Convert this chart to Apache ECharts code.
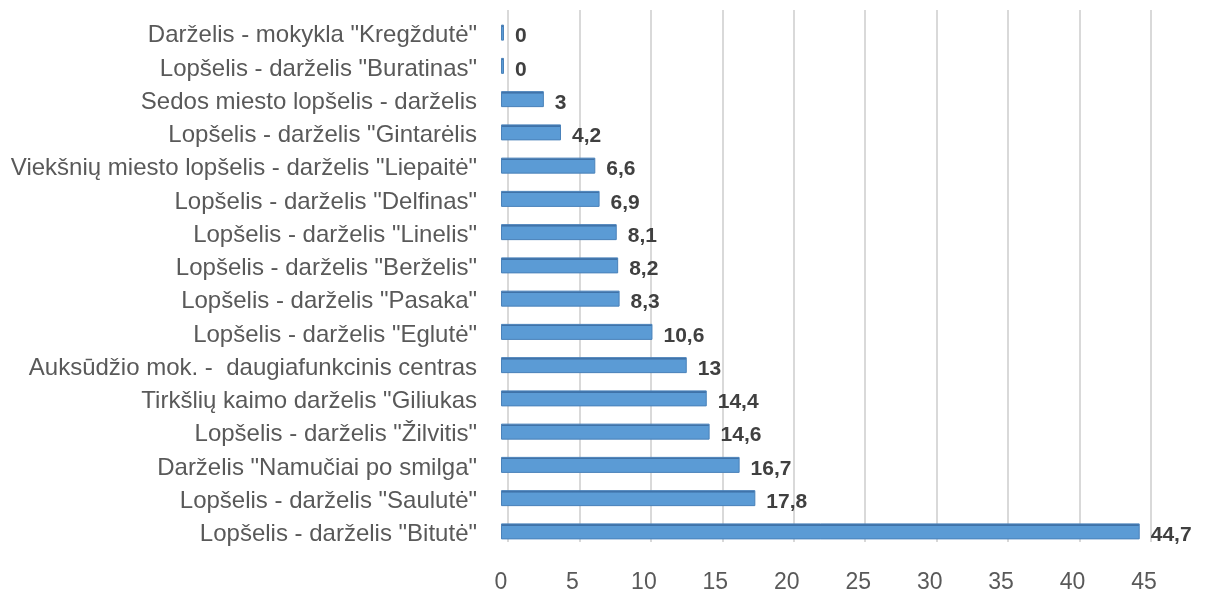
<!DOCTYPE html>
<html>
<head>
<meta charset="utf-8">
<script src="https://cdn.jsdelivr.net/npm/echarts@6/dist/echarts.min.js"></script>
<style>
  html, body { margin: 0; padding: 0; background: #fff; }
  #chart { width: 1207px; height: 590px; }
</style>
</head>
<body>
<div id="chart"></div>
<script>
// duomenys, iš viršaus į apačią
const categories = [
	'Darželis - mokykla "Kregždutė"',
	'Lopšelis - darželis "Buratinas"',
	"Sedos miesto lopšelis - darželis",
	'Lopšelis - darželis "Gintarėlis',
	'Viekšnių miesto lopšelis - darželis "Liepaitė"',
	'Lopšelis - darželis "Delfinas"',
	'Lopšelis - darželis "Linelis"',
	'Lopšelis - darželis "Berželis"',
	'Lopšelis - darželis "Pasaka"',
	'Lopšelis - darželis "Eglutė"',
	"Auksūdžio mok. -  daugiafunkcinis centras",
	'Tirkšlių kaimo darželis "Giliukas',
	'Lopšelis - darželis "Žilvitis"',
	'Darželis "Namučiai po smilga"',
	'Lopšelis - darželis "Saulutė"',
	'Lopšelis - darželis "Bitutė"',
];
const values = [0, 0, 3, 4.2, 6.6, 6.9, 8.1, 8.2, 8.3, 10.6, 13, 14.4, 14.6, 16.7, 17.8, 44.7];
const xTicks = [0, 5, 10, 15, 20, 25, 30, 35, 40, 45];

const chart = echarts.init(document.getElementById("chart"));

chart.setOption({
	animation: false,
	textStyle: { fontFamily: "Liberation Sans, Arial, sans-serif" },
	grid: [
		{ left: 501, width: 643, top: 16, height: 532, outerBoundsMode: "none" }, // stulpeliai
		{ left: 508, width: 643, top: 10, height: 532, outerBoundsMode: "none" }, // galinė sienelė (tinklelis)
	],
	xAxis: [
		{
			gridIndex: 0,
			type: "value",
			min: xTicks[0],
			max: xTicks[xTicks.length - 1],
			interval: 5,
			axisLine: { show: false },
			axisTick: { show: false },
			splitLine: { show: false },
			axisLabel: { color: "#595959", fontSize: 23, margin: 23 },
		},
		{
			gridIndex: 1,
			type: "value",
			min: 0,
			max: 45,
			interval: 5,
			axisLine: { show: false },
			axisTick: { show: false },
			axisLabel: { show: false },
			splitLine: { show: true, lineStyle: { color: "#D9D9D9", width: 2 } },
		},
	],
	yAxis: [
		{
			gridIndex: 0,
			type: "category",
			data: categories,
			inverse: true,
			axisLine: { show: false },
			axisTick: { show: false },
			axisLabel: {
				color: "#595959",
				fontSize: 24,
				margin: 24,
				verticalAlign: "top",
				lineHeight: 6, // tekstas truputį žemiau stulpelio centro
			},
		},
		{
			gridIndex: 1,
			type: "category",
			data: categories,
			inverse: true,
			show: false,
		},
	],
	series: [
		{
			type: "bar",
			xAxisIndex: 0,
			yAxisIndex: 0,
			data: values,
			barWidth: 16,
			barMinHeight: 3,
			itemStyle: {
				color: new echarts.graphic.LinearGradient(0, 0, 0, 1, [
					{ offset: 0, color: "#3F72A8" },
					{ offset: 0.14, color: "#3F72A8" },
					{ offset: 0.16, color: "#5B9BD5" },
					{ offset: 1, color: "#5B9BD5" },
				]),
				borderColor: "#4A82BA",
				borderWidth: 1,
			},
			label: {
				show: true,
				position: "right",
				distance: 11,
				offset: [0, 4],
				color: "#404040",
				fontWeight: "bold",
				fontSize: 21,
				formatter: (p) => String(p.value).replace(".", ","),
			},
		},
	],
});
</script>
</body>
</html>
